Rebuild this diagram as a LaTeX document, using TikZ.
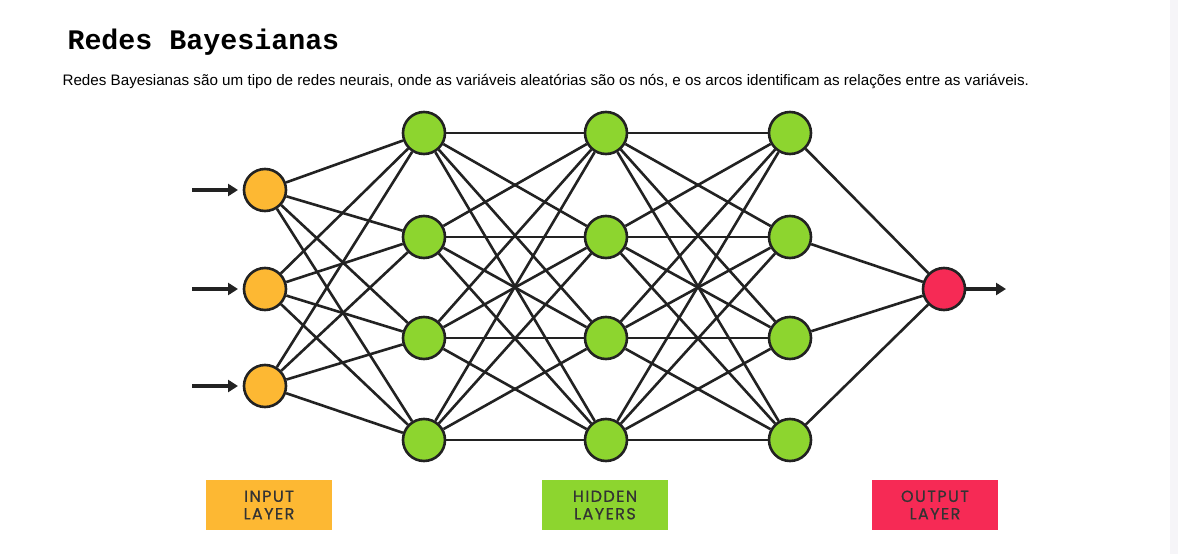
\documentclass[tikz,border=0pt]{standalone}
\usepackage{fontspec}
\setmainfont{Liberation Sans}
\newfontfamily\titlefont{Liberation Mono}
\newfontfamily\labfont{Poppins}[LetterSpace=9, FakeBold=0.6]
\usetikzlibrary{arrows.meta}
\definecolor{inorange}{HTML}{FDB833}
\definecolor{hidgreen}{HTML}{8DD52F}
\definecolor{outred}{HTML}{F62A55}
\definecolor{edgecol}{HTML}{222222}
\definecolor{labtext}{HTML}{333333}
\definecolor{stripcol}{HTML}{F6F5F8}
\tikzset{
  neuron/.style={circle, draw=edgecol, line width=2.6pt, minimum size=42pt, inner sep=0pt},
  innode/.style={neuron, fill=inorange},
  hidnode/.style={neuron, fill=hidgreen},
  outnode/.style={neuron, fill=outred},
  link/.style={draw=edgecol, line width=2.6pt},
  flow/.style={draw=edgecol, line width=4pt, -{Triangle[length=10pt,width=12pt]}},
  labbox/.style={minimum width=126pt, minimum height=50pt, inner sep=0pt, align=center,
    font=\labfont\fontsize{16}{17.5}\selectfont, text=labtext},
}
\begin{document}
\begin{tikzpicture}[x=1pt,y=-1pt]
\useasboundingbox (0,0) rectangle (1178,554);
\fill[white] (0,0) rectangle (1178,554);
\fill[stripcol] (1170,0) rectangle (1178,554);

\node[anchor=west, font=\titlefont\bfseries\fontsize{28.3}{30}\selectfont] (title) at (64,42) {Redes Bayesianas};
\node[anchor=west, font=\fontsize{15.2}{17}\selectfont] (sub) at (59,82) {Redes Bayesianas são um tipo de redes neurais, onde as variáveis aleatórias são os nós, e os arcos identificam as relações entre as variáveis.};

% input layer
\foreach \i/\y in {1/190,2/289,3/386} {
  \node[innode] (i\i) at (265,\y) {};
}
% hidden layers
\foreach \l/\x in {1/424,2/606,3/790} {
  \foreach \j/\y in {1/133,2/237,3/338,4/440} {
    \node[hidnode] (h\l\j) at (\x,\y) {};
  }
}
% output
\node[outnode] (o) at (944,289) {};

% connections
\foreach \i in {1,2,3} \foreach \j in {1,2,3,4} \draw[link] (i\i) -- (h1\j);
\foreach \i in {1,2,3,4} \foreach \j in {1,2,3,4} \draw[link] (h1\i) -- (h2\j);
\foreach \i in {1,2,3,4} \foreach \j in {1,2,3,4} \draw[link] (h2\i) -- (h3\j);
\foreach \i in {1,2,3,4} \draw[link] (h3\i) -- (o);

% arrows
\foreach \i/\y in {1/190,2/289,3/386} {
  \coordinate (s\i) at (192,\y);
  \coordinate (t\i) at (238,\y);
  \draw[flow] (s\i) -- (t\i);
}
\coordinate (oend) at (1006,289);
\draw[flow] (o) -- (oend);

% labels
\node[labbox, fill=inorange] (lin) at (269,505) {INPUT\\LAYER};
\node[labbox, fill=hidgreen] (lhid) at (605,505) {HIDDEN\\LAYERS};
\node[labbox, fill=outred] (lout) at (935,505) {OUTPUT\\LAYER};
\end{tikzpicture}
\end{document}
